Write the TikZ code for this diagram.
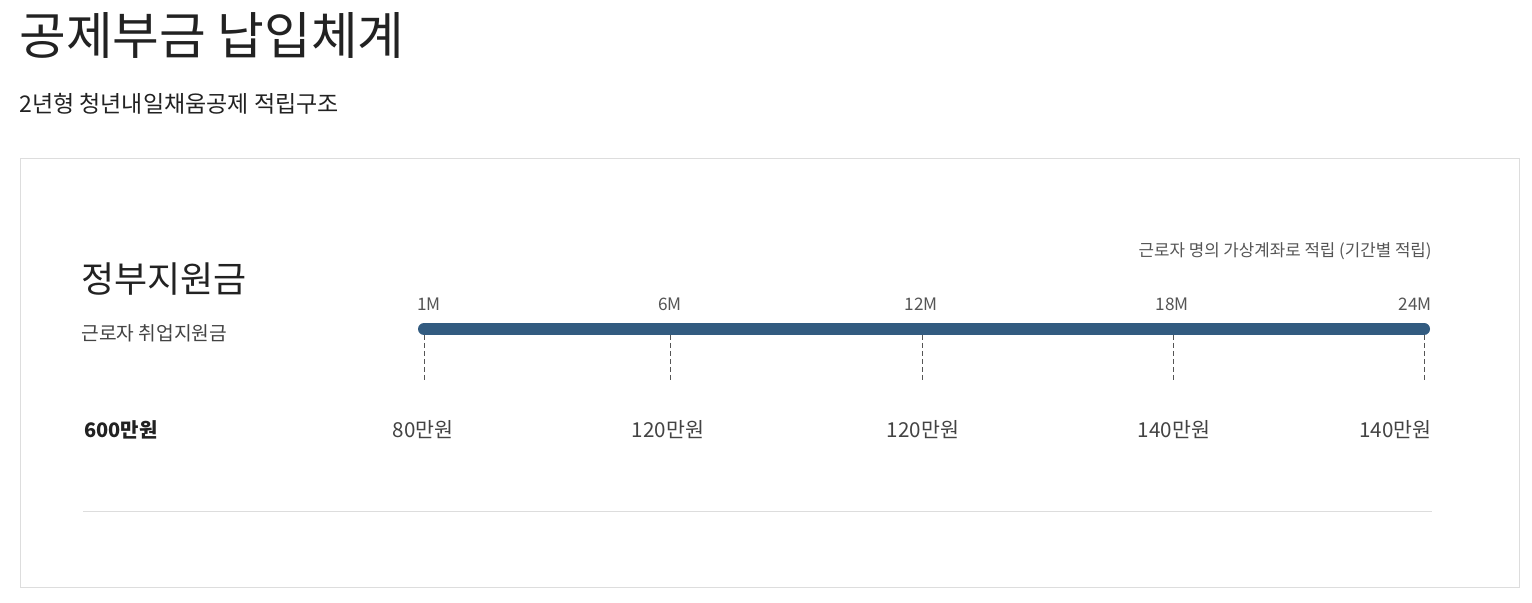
\documentclass[tikz,border=0pt]{standalone}
\usepackage{fontspec}
\setmainfont{Noto Sans CJK KR}
\usetikzlibrary{positioning}
\definecolor{barblue}{RGB}{50,91,128}
\definecolor{textdark}{RGB}{34,34,34}
\definecolor{textgray}{RGB}{85,85,85}
\definecolor{linegray}{RGB}{221,221,221}
\begin{document}
\begin{tikzpicture}[x=0.5pt,y=-0.5pt,
    txt/.style={inner sep=0pt, text=textdark},
    monthlabel/.style={inner sep=0pt, text=textgray, font=\fontsize{8.6}{10}\selectfont},
    amountlabel/.style={inner sep=0pt, text=textdark!85, font=\fontsize{10.3}{12}\selectfont},
    tickdash/.style={textgray, line width=0.5pt, dash pattern=on 2.5pt off 1.5pt}]
    \useasboundingbox[fill=white] (0,0) rectangle (1532,603);
    % titles
    \node[txt, anchor=west, font=\fontsize{25.4}{28}\selectfont] (title) at (19,35) {공제부금 납입체계};
    \node[txt, anchor=west, font=\fontsize{11.5}{13}\selectfont] (subtitle) at (19,104) {2년형 청년내일채움공제 적립구조};
    % frame
    \draw[linegray, line width=0.5pt] (20.5,158.5) rectangle (1519.5,587.5);
    \node[txt, anchor=west, font=\fontsize{18}{21}\selectfont] (gov) at (81,279) {정부지원금};
    \node[txt, anchor=west, text=textdark!85, font=\fontsize{9.6}{11}\selectfont] (govsub) at (81,333) {근로자 취업지원금};
    \node[txt, anchor=west, font=\bfseries\fontsize{10}{12}\selectfont] (total) at (84,430) {600만원};
    \node[txt, anchor=east, text=textgray, font=\fontsize{8.4}{10}\selectfont] (note) at (1432,251) {근로자 명의 가상계좌로 적립 (기간별 적립)};
    % timeline
    \draw[barblue, line width=6pt, line cap=round] (424,329) -- (1424,329);
    \foreach \x/\m/\a [count=\i] in {424/1M/80, 670/6M/120, 922/12M/120, 1173/18M/140, 1424/24M/140} {
        \coordinate (top\i) at (\x,335);
        \coordinate (bot\i) at (\x,381);
        \draw[tickdash] (top\i) -- (bot\i);
    }
    \foreach \i in {2,3,4}
        \draw[white, line width=0.8pt] ([yshift=6]top\i) -- ([yshift=18]top\i);
    % month labels
    \node[monthlabel, anchor=west] (m1) at (417,304) {1M};
    \node[monthlabel] (m2) at (670,304) {6M};
    \node[monthlabel] (m3) at (921,304) {12M};
    \node[monthlabel] (m4) at (1172,304) {18M};
    \node[monthlabel, anchor=east] (m5) at (1432,304) {24M};
    % amounts
    \node[amountlabel] (a1) at (423,430) {80만원};
    \node[amountlabel] (a2) at (668,430) {120만원};
    \node[amountlabel] (a3) at (923,430) {120만원};
    \node[amountlabel] (a4) at (1174,430) {140만원};
    \node[amountlabel, anchor=east] (a5) at (1432,430) {140만원};
    \draw[linegray, line width=0.6pt] (83,511.5) -- (1432,511.5);
\end{tikzpicture}
\end{document}
